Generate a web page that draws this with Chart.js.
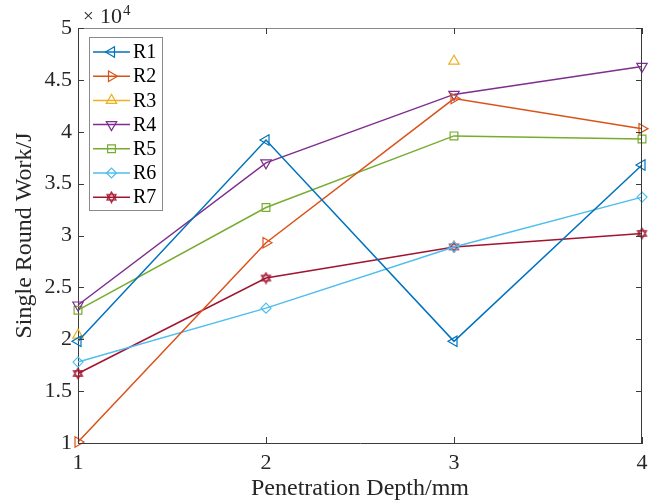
<!DOCTYPE html>
<html>
<head>
<meta charset="utf-8">
<script src="https://cdn.jsdelivr.net/npm/chart.js@4"></script>
<style>
  html, body { margin: 0; padding: 0; background: #fff; }
  #wrap { width: 650px; height: 503px; }
</style>
</head>
<body>
<div id="wrap"><canvas id="myChart" width="650" height="503"></canvas></div>
<script>
// penetration depth (mm)
const depths = [1, 2, 3, 4];
const labels = ['R1', 'R2', 'R3', 'R4', 'R5', 'R6', 'R7'];
// single round work (J)
const r1 = [19800, 39200, 19800, 36800];
const r2 = [10100, 29300, 43200, 40300];
const r3 = [20400, null, 46800, null];
const r4 = [23300, 37000, 43600, 46300];
const r5 = [22800, 32700, 39600, 39300];
const r6 = [17800, 23000, 28900, 33700];
const r7 = [16700, 25900, 28900, 30200];
const yTicks = [10000, 15000, 20000, 25000, 30000, 35000, 40000, 45000, 50000];

const colors = ['#0072BD', '#D95319', '#EDB120', '#7E2F8E', '#77AC30', '#4DBEEE', '#A2142F'];
const serif = '"Liberation Serif", "Times New Roman", serif';

// hexagram marker for R7
function hexagram(color) {
  const c = document.createElement('canvas');
  c.width = 13; c.height = 13;
  const g = c.getContext('2d');
  g.strokeStyle = color;
  g.lineWidth = 1.2;
  const r = 5.2;
  [0, Math.PI].forEach(off => {
    g.beginPath();
    for (let i = 0; i < 3; i++) {
      const a = off - Math.PI / 2 + i * 2 * Math.PI / 3;
      const px = 6.5 + r * Math.cos(a), py = 6.5 + r * Math.sin(a);
      if (i === 0) g.moveTo(px, py); else g.lineTo(px, py);
    }
    g.closePath();
    g.stroke();
  });
  return c;
}

const styles = [
  { pointStyle: 'triangle', rotation: -90, radius: 6 },
  { pointStyle: 'triangle', rotation: 90, radius: 6 },
  { pointStyle: 'triangle', rotation: 0, radius: 6 },
  { pointStyle: 'triangle', rotation: 180, radius: 6 },
  { pointStyle: 'rect', rotation: 0, radius: 5.5 },
  { pointStyle: 'rectRot', rotation: 0, radius: 5 },
  { pointStyle: hexagram(colors[6]), rotation: 0, radius: 6 }
];

const series = [r1, r2, r3, r4, r5, r6, r7];
const datasets = series.map((vals, i) => ({
  label: labels[i],
  data: depths.map((d, j) => ({ x: d, y: vals[j] })),
  borderColor: colors[i],
  backgroundColor: 'rgba(0,0,0,0)',
  pointBackgroundColor: 'rgba(0,0,0,0)',
  pointBorderColor: colors[i],
  borderWidth: 1.5,
  pointBorderWidth: 1.2,
  pointStyle: styles[i].pointStyle,
  pointRotation: styles[i].rotation,
  pointRadius: styles[i].radius,
  showLine: i !== 2,
  spanGaps: false,
  clip: false
}));

// box, inward ticks, exponent label and legend drawn like matlab
const matlabAxes = {
  id: 'matlabAxes',
  afterDatasetsDraw(chart) {
    const { ctx, chartArea: a, scales } = chart;
    ctx.save();
    ctx.lineWidth = 1;
    ctx.strokeStyle = '#8a8a8a';
    ctx.beginPath();
    ctx.moveTo(a.left, a.top + 0.5); ctx.lineTo(a.right, a.top + 0.5);
    ctx.stroke();
    ctx.strokeStyle = '#3a3a3a';
    ctx.beginPath();
    ctx.moveTo(a.right - 0.5, a.top); ctx.lineTo(a.right - 0.5, a.bottom);
    ctx.stroke();
    const tl = 6;
    ctx.beginPath();
    depths.forEach(d => {
      const x = Math.round(scales.x.getPixelForValue(d)) + 0.5;
      ctx.moveTo(x, a.bottom); ctx.lineTo(x, a.bottom - tl);
      ctx.moveTo(x, a.top); ctx.lineTo(x, a.top + tl);
    });
    yTicks.forEach(v => {
      const y = Math.round(scales.y.getPixelForValue(v)) + 0.5;
      ctx.moveTo(a.left, y); ctx.lineTo(a.left + tl, y);
      ctx.moveTo(a.right, y); ctx.lineTo(a.right - tl, y);
    });
    ctx.stroke();

    // x 10^4
    ctx.fillStyle = '#262626';
    ctx.textBaseline = 'alphabetic';
    ctx.textAlign = 'left';
    ctx.font = '19px ' + serif;
    ctx.fillText('\u00d7', a.left + 5, 22);
    ctx.font = '22px ' + serif;
    ctx.fillText('10', a.left + 22, 23);
    ctx.font = '15px ' + serif;
    ctx.fillText('4', a.left + 45, 15);

    // legend
    const lx = 89, ly = 37, lw = 73, lh = 173;
    ctx.fillStyle = '#ffffff';
    ctx.fillRect(lx, ly, lw, lh);
    ctx.strokeStyle = '#8a8a8a';
    ctx.lineWidth = 1;
    ctx.strokeRect(lx + 0.5, ly + 0.5, lw, lh);
    ctx.font = '20px ' + serif;
    ctx.textBaseline = 'middle';
    chart.data.datasets.forEach((ds, i) => {
      const y = 52 + i * 24.2;
      ctx.strokeStyle = ds.borderColor;
      ctx.lineWidth = 1.5;
      ctx.beginPath();
      ctx.moveTo(93, y); ctx.lineTo(130, y);
      ctx.stroke();
      ctx.fillStyle = 'rgba(0,0,0,0)';
      ctx.lineWidth = 1.2;
      Chart.helpers.drawPoint(ctx, {
        pointStyle: ds.pointStyle,
        rotation: ds.pointRotation,
        radius: ds.pointRadius,
        borderWidth: 1.2
      }, 111.5, y);
      ctx.fillStyle = '#000';
      ctx.fillText(ds.label, 133, y + 1);
    });
    ctx.restore();
  }
};

const ctx = document.getElementById('myChart').getContext('2d');
const myChart = new Chart(ctx, {
  type: 'scatter',
  data: { datasets: datasets },
  plugins: [matlabAxes],
  options: {
    responsive: false,
    animation: false,
    layout: { padding: { top: 28, right: 8, left: 0, bottom: 0 } },
    plugins: {
      legend: { display: false },
      tooltip: { enabled: false }
    },
    scales: {
      x: {
        type: 'linear',
        min: 1, max: 4,
        afterFit(scale) {
          scale.height = 60;
          scale.paddingLeft = 0;
          scale.paddingRight = 0;
        },
        grid: { display: false, drawTicks: false },
        border: { display: true, color: '#3a3a3a', width: 1 },
        afterBuildTicks(scale) { scale.ticks = depths.map(v => ({ value: v })); },
        ticks: { color: '#262626', padding: 7, font: { family: serif, size: 22 } },
        title: {
          display: true, text: 'Penetration Depth/mm', color: '#262626',
          font: { family: serif, size: 24 }, padding: { top: 0, bottom: 0 }
        }
      },
      y: {
        min: 10000, max: 50000,
        afterFit(scale) {
          scale.width = 78;
          scale.paddingTop = 0;
          scale.paddingBottom = 0;
        },
        grid: { display: false, drawTicks: false },
        border: { display: true, color: '#3a3a3a', width: 1 },
        afterBuildTicks(scale) { scale.ticks = yTicks.map(v => ({ value: v })); },
        ticks: {
          color: '#262626', padding: 6, font: { family: serif, size: 22 },
          callback: v => String(v / 10000)
        },
        title: {
          display: true, text: 'Single Round Work/J', color: '#262626',
          font: { family: serif, size: 24 }, padding: { top: 10, bottom: 0 }
        }
      }
    }
  }
});
</script>
</body>
</html>
